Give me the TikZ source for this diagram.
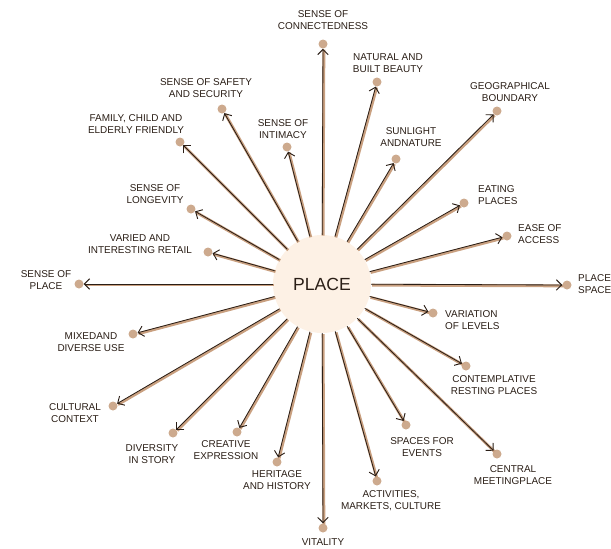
\documentclass[tikz,border=0pt]{standalone}
\usepackage{fontspec}
\setmainfont{Liberation Sans}
\usetikzlibrary{arrows.meta,positioning}
\definecolor{ink}{HTML}{2A1E16}
\definecolor{tan}{HTML}{C9A080}
\definecolor{dotc}{HTML}{CDAA8E}
\definecolor{hubfill}{HTML}{FDF1E5}

\begin{document}
\begin{tikzpicture}[x=0.03cm, y=-0.03cm,
  hub/.style={circle, fill=hubfill, minimum size=98*0.03cm, inner sep=0pt, font=\fontsize{15}{15}\selectfont, text=ink},
  dot/.style={circle, fill=dotc, minimum size=9*0.03cm, inner sep=0pt},
  lbl/.style={align=center, inner sep=0pt, text=ink, font=\fontsize{8.5}{10}\selectfont},
  spoke/.style={draw=ink, line width=0.7pt, -{Straight Barb[length=4.5pt, width=9pt, line width=0.8pt]},
    preaction={draw=tan, line width=2.4pt, -, transform canvas={shift={(0.8pt,-0.8pt)}}}}]
  \useasboundingbox (0,0) rectangle (611,548);
  \node[hub] (hub) at (322,284) {PLACE};
  \foreach \n/\x/\y in {1/323/44, 2/377/82, 3/396/159, 4/497/111, 5/464/203, 6/507/236,
      7/567/285, 8/433/313, 9/466/366, 10/497/454, 11/406/425, 12/377/481,
      13/323/528, 14/277/462, 15/237/432, 16/173/433, 17/113/406, 18/133/334,
      19/79/284, 20/208/252, 21/191/209, 22/180/142, 23/222/109, 24/287/147} {
    \node[dot] (p\n) at (\x,\y) {};
  }
  \foreach \n in {1,...,24} {
    \draw[spoke] (hub) -- (p\n);
  }
  \node[lbl] (t1) at (323,20) {SENSE OF\\CONNECTEDNESS};
  \node[lbl] (t2) at (388,63) {NATURAL AND\\BUILT BEAUTY};
  \node[lbl] (t3) at (411,137) {SUNLIGHT\\ANDNATURE};
  \node[lbl] (t4) at (510,92) {GEOGRAPHICAL\\BOUNDARY};
  \node[lbl, anchor=west, align=left] (t5) at (478,195) {EATING\\PLACES};
  \node[lbl, anchor=west, align=left] (t6) at (518,234) {EASE OF\\ACCESS};
  \node[lbl, anchor=west, align=left] (t7) at (578,284) {PLACE\\SPACE};
  \node[lbl, anchor=west, align=left] (t8) at (445,320) {VARIATION\\OF LEVELS};
  \node[lbl] (t9) at (494,385) {CONTEMPLATIVE\\RESTING PLACES};
  \node[lbl] (t10) at (513,475) {CENTRAL\\MEETINGPLACE};
  \node[lbl] (t11) at (422,447) {SPACES FOR\\EVENTS};
  \node[lbl] (t12) at (391,501) {ACTIVITIES,\\MARKETS, CULTURE};
  \node[lbl] (t13) at (323,542) {VITALITY};
  \node[lbl] (t14) at (277,480) {HERITAGE\\AND HISTORY};
  \node[lbl] (t15) at (226,450) {CREATIVE\\EXPRESSION};
  \node[lbl] (t16) at (152,454) {DIVERSITY\\IN STORY};
  \node[lbl] (t17) at (75,413) {CULTURAL\\CONTEXT};
  \node[lbl] (t18) at (91,342) {MIXEDAND\\DIVERSE USE};
  \node[lbl] (t19) at (46,280) {SENSE OF\\PLACE};
  \node[lbl] (t20) at (140,244) {VARIED AND\\INTERESTING RETAIL};
  \node[lbl] (t21) at (155,194) {SENSE OF\\LONGEVITY};
  \node[lbl] (t22) at (136,124) {FAMILY, CHILD AND\\ELDERLY FRIENDLY};
  \node[lbl] (t23) at (206,88) {SENSE OF SAFETY\\AND SECURITY};
  \node[lbl] (t24) at (283,129) {SENSE OF\\INTIMACY};
\end{tikzpicture}
\end{document}
